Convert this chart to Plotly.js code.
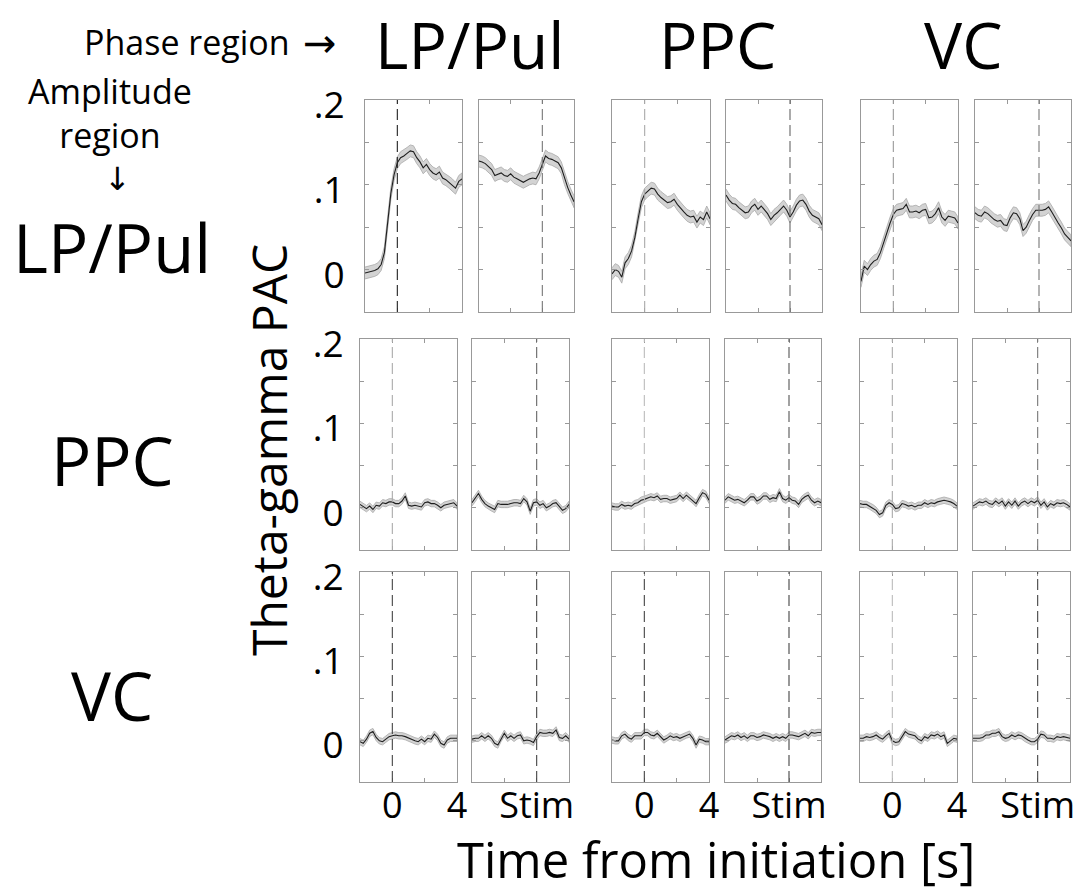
<!DOCTYPE html>
<html><head><meta charset="utf-8">
<script src="https://cdn.plot.ly/plotly-3.0.1.min.js"></script>
<style>html,body{margin:0;padding:0;background:#fff;}#chart{width:1079px;height:892px;}</style>
</head><body><div id="chart"></div>
<script>
// ---------- DATA ----------
const timeInit = [-2,-1.8,-1.6,-1.4,-1.2,-1,-0.8,-0.6,-0.4,-0.2,0,0.2,0.4,0.6,0.8,1,1.2,1.4,1.6,1.8,2,2.2,2.4,2.6,2.8,3,3.2,3.4,3.6,3.8,4];
const timeStim = [-4,-3.8,-3.6,-3.4,-3.2,-3,-2.8,-2.6,-2.4,-2.2,-2,-1.8,-1.6,-1.4,-1.2,-1,-0.8,-0.6,-0.4,-0.2,0,0.2,0.4,0.6,0.8,1,1.2,1.4,1.6,1.8,2];

const phaseRegions = ['LP/Pul','PPC','VC'];
const amplitudeRegions = ['LP/Pul','PPC','VC'];
const initTickText = ['', '0', '', '4'];
const stimTickText = ['', '', 'Stim', ''];
const pacTickText = ['', '0', '', '.1', '', '.2'];

// amplitude LP/Pul
const lp_lp_init = [-0.004,-0.003,-0.002,-0.001,0.001,0.006,0.020,0.055,0.090,0.112,0.126,0.132,0.134,0.137,0.140,0.139,0.132,0.127,0.120,0.124,0.118,0.114,0.112,0.115,0.108,0.106,0.103,0.100,0.096,0.104,0.107];
const lp_lp_stim = [0.128,0.127,0.125,0.122,0.118,0.111,0.113,0.114,0.111,0.110,0.113,0.109,0.107,0.105,0.103,0.105,0.107,0.108,0.107,0.114,0.124,0.134,0.131,0.130,0.128,0.126,0.120,0.107,0.097,0.088,0.080];
const lp_ppc_init = [-0.005,0.000,-0.002,-0.009,0.008,0.013,0.022,0.038,0.060,0.080,0.089,0.093,0.096,0.095,0.089,0.085,0.082,0.079,0.080,0.083,0.077,0.072,0.068,0.064,0.062,0.063,0.056,0.062,0.059,0.068,0.060];
const lp_ppc_stim = [0.088,0.082,0.078,0.077,0.073,0.070,0.067,0.068,0.074,0.077,0.071,0.075,0.071,0.066,0.059,0.064,0.067,0.071,0.075,0.070,0.062,0.068,0.076,0.081,0.082,0.077,0.069,0.064,0.062,0.060,0.053];
const lp_vc_init = [-0.014,0.004,0.000,0.006,0.010,0.012,0.020,0.032,0.043,0.055,0.065,0.070,0.071,0.072,0.077,0.068,0.068,0.069,0.067,0.070,0.071,0.061,0.062,0.066,0.073,0.062,0.058,0.063,0.062,0.061,0.055];
const lp_vc_stim = [0.067,0.064,0.063,0.068,0.066,0.062,0.059,0.057,0.058,0.053,0.052,0.061,0.067,0.066,0.060,0.046,0.050,0.058,0.065,0.070,0.070,0.070,0.071,0.074,0.068,0.061,0.055,0.049,0.042,0.038,0.034];
// amplitude PPC
const ppc_lp_init = [0.004,0.001,-0.001,0.002,-0.002,0.003,0.002,0.006,0.005,0.007,0.007,0.005,0.005,0.008,0.014,0.003,0.002,0.003,0.002,0.001,0.006,0.007,0.005,0.005,0.003,0.000,0.003,0.004,0.005,0.006,0.002];
const ppc_lp_stim = [0.006,0.011,0.017,0.010,0.005,0.002,0.000,-0.002,0.005,0.004,0.004,0.004,0.005,0.006,0.006,0.005,0.011,0.007,-0.004,0.006,0.007,0.003,0.005,0.000,0.002,0.005,0.006,0.002,-0.003,-0.001,0.004];
const ppc_ppc_init = [0.002,0.001,0.001,0.004,0.002,0.003,0.002,0.005,0.006,0.009,0.010,0.012,0.013,0.012,0.014,0.010,0.011,0.011,0.009,0.010,0.011,0.015,0.011,0.015,0.012,0.009,0.005,0.012,0.018,0.016,0.009];
const ppc_ppc_stim = [0.009,0.013,0.011,0.009,0.010,0.008,0.006,0.009,0.013,0.013,0.008,0.010,0.014,0.014,0.010,0.012,0.011,0.019,0.011,0.009,0.012,0.009,0.008,0.004,0.010,0.013,0.015,0.009,0.006,0.008,0.006];
const ppc_vc_init = [0.005,0.004,0.004,0.002,0.000,-0.003,-0.008,-0.006,0.003,0.006,0.004,-0.001,0.000,0.005,0.004,0.002,0.003,0.001,0.003,0.003,0.006,0.004,0.006,0.005,0.007,0.008,0.009,0.008,0.007,0.005,0.002];
const ppc_vc_stim = [0.002,0.005,0.007,0.006,0.008,0.005,0.004,0.008,0.005,0.008,0.002,0.007,0.003,0.008,0.002,0.006,0.008,0.005,0.008,0.006,0.009,0.003,0.007,0.001,0.005,0.003,0.006,0.005,0.006,0.004,0.001];
// amplitude VC
const vc_lp_init = [-0.002,-0.004,0.001,0.008,0.010,0.003,-0.001,-0.002,0.001,0.004,0.005,0.006,0.005,0.005,0.004,0.002,0.001,-0.001,-0.002,0.001,-0.002,0.002,0.001,0.007,0.003,-0.004,-0.006,0.000,0.002,0.002,0.002];
const vc_lp_stim = [0.001,0.002,0.002,0.005,0.002,0.005,0.002,-0.004,-0.006,0.002,0.008,0.002,0.005,0.002,0.005,0.006,-0.001,0.000,-0.001,-0.003,0.004,0.009,0.008,0.008,0.009,0.008,0.012,0.003,0.002,0.005,0.001];
const vc_ppc_init = [0.000,-0.001,-0.001,0.005,0.007,0.003,0.001,0.005,0.005,0.005,0.009,0.009,0.006,0.005,0.008,0.004,0.000,0.002,0.005,0.003,0.004,0.002,0.004,0.006,0.007,0.002,-0.006,0.001,0.000,-0.002,-0.002];
const vc_ppc_stim = [0.000,0.002,0.005,0.004,0.006,0.003,0.005,0.002,0.005,0.005,0.003,0.004,0.006,0.005,0.004,0.002,0.004,0.002,0.004,0.002,0.006,0.006,0.005,0.004,0.006,0.008,0.005,0.009,0.008,0.009,0.009];
const vc_vc_init = [0.002,0.002,0.004,0.003,0.004,0.006,0.003,0.001,0.005,0.008,-0.001,-0.003,-0.002,0.004,0.010,0.007,0.006,0.005,0.001,-0.001,0.004,0.002,0.006,0.005,0.007,0.004,0.006,-0.004,-0.001,0.002,0.001];
const vc_vc_stim = [0.002,0.002,0.002,0.003,0.006,0.006,0.008,0.008,0.010,0.004,0.002,0.003,0.006,0.004,0.006,0.005,0.002,0.000,-0.002,-0.002,0.001,0.007,0.006,0.002,0.002,0.001,0.004,0.003,0.004,0.003,0.002];

// SEM half-width of shaded band per amplitude region
const semByAmplitude = [0.007, 0.0038, 0.0038];

// ---------- STYLE / LAYOUT ----------
const W = 1079, H = 892;
const FONT = 'Open Sans, sans-serif';
const ARROWFONT = 'DejaVu Sans, sans-serif';
const panelRows = [
  [lp_lp_init, lp_lp_stim, lp_ppc_init, lp_ppc_stim, lp_vc_init, lp_vc_stim],
  [ppc_lp_init, ppc_lp_stim, ppc_ppc_init, ppc_ppc_stim, ppc_vc_init, ppc_vc_stim],
  [vc_lp_init, vc_lp_stim, vc_ppc_init, vc_ppc_stim, vc_vc_init, vc_vc_stim]
];
const colPx = [
  [[365,462],[479,574],[612,710],[726,822],[861,958],[975,1071]],
  [[360,457],[472,569],[612,709],[725,821],[860,957],[973,1070]],
  [[360,457],[472,569],[612,709],[725,821],[860,957],[973,1070]]
];
const rowPx = [[100,312],[339,550],[572,782]];
const dashColors = [
  ['#222','#777','#aaa','#666','#999','#777'],
  ['#aaa','#666','#bbb','#555','#aaa','#777'],
  ['#444','#444','#444','#444','#bbb','#444']
];

const traces = [];
const shapes = [];
const layout = {
  width: W, height: H,
  margin: {l:0, r:0, t:0, b:0},
  paper_bgcolor: '#fff', plot_bgcolor: '#fff',
  showlegend: false,
  font: {family: FONT, color: '#000'},
  annotations: []
};

for (let r = 0; r < 3; r++) {
  for (let c = 0; c < 6; c++) {
    const k = r * 6 + c + 1;
    const sfx = k === 1 ? '' : String(k);
    const isInit = c % 2 === 0;
    const t = isInit ? timeInit : timeStim;
    const m = panelRows[r][c];
    const s = semByAmplitude[r];
    const upper = m.map(v => v + s);
    const lower = m.map(v => v - s);
    traces.push({
      x: t.concat(t.slice().reverse()),
      y: upper.concat(lower.slice().reverse()),
      xaxis: 'x' + sfx, yaxis: 'y' + sfx,
      type: 'scatter', mode: 'lines', fill: 'toself',
      fillcolor: 'rgba(175,175,175,0.55)',
      line: {color: '#a8a8a8', width: 0.8},
      hoverinfo: 'skip'
    });
    traces.push({
      x: t, y: m, xaxis: 'x' + sfx, yaxis: 'y' + sfx,
      type: 'scatter', mode: 'lines',
      line: {color: '#1e1e1e', width: 1.1}
    });
    const [x0, x1] = colPx[r][c];
    const [y0, y1] = rowPx[r];
    layout['xaxis' + sfx] = {
      domain: [x0 / W, x1 / W],
      range: isInit ? [-2, 4] : [-4, 2],
      tickvals: isInit ? [-2, 0, 2, 4] : [-4, -2, 0, 2],
      ticktext: r === 2 ? (isInit ? initTickText : stimTickText) : ['', '', '', ''],
      ticks: 'inside', ticklen: 4, tickcolor: '#999', tickwidth: 1,
      showline: true, mirror: 'ticks', linecolor: '#999', linewidth: 1,
      showgrid: false, zeroline: false,
      anchor: 'y' + sfx,
      ticklabelstandoff: -8,
      tickfont: {family: FONT, size: 36, color: '#000'},
      fixedrange: true
    };
    layout['yaxis' + sfx] = {
      domain: [1 - y1 / H, 1 - y0 / H],
      range: [-0.05, 0.2],
      tickvals: [-0.05, 0, 0.05, 0.1, 0.15, 0.2],
      ticktext: c === 0 ? pacTickText : ['', '', '', '', '', ''],
      ticks: 'inside', ticklen: 4, tickcolor: '#999', tickwidth: 1,
      showline: true, mirror: 'ticks', linecolor: '#999', linewidth: 1,
      showgrid: false, zeroline: false,
      anchor: 'x' + sfx,
      ticklabelstandoff: r === 0 ? 12 : 8,
      ticklabelshift: 5,
      tickfont: {family: FONT, size: 37, color: '#000'},
      fixedrange: true
    };
    shapes.push({
      type: 'line', xref: 'x' + sfx, yref: 'y' + sfx + ' domain',
      x0: 0, x1: 0, y0: 0, y1: 1,
      line: {color: dashColors[r][c], width: 1.1, dash: '11px,5px'}
    });
  }
}
layout.shapes = shapes;

// headers
const groupCenters = [469, 717, 963];
phaseRegions.forEach((name, i) => {
  layout.annotations.push({text: name, xref: 'paper', yref: 'paper',
    x: groupCenters[i] / W, y: 1 - 44 / H, xanchor: 'center', yanchor: 'middle',
    showarrow: false, font: {family: FONT, size: 64, color: '#000'}});
});
const rowCenters = [247, 460, 695];
amplitudeRegions.forEach((name, i) => {
  layout.annotations.push({text: name, xref: 'paper', yref: 'paper',
    x: 112 / W, y: 1 - rowCenters[i] / H, xanchor: 'center', yanchor: 'middle',
    showarrow: false, font: {family: FONT, size: 67, color: '#000'}});
});
layout.annotations.push({text: 'Phase region', xref: 'paper', yref: 'paper',
  x: 292 / W, y: 1 - 42 / H, xanchor: 'right', yanchor: 'middle',
  showarrow: false, font: {family: FONT, size: 34, color: '#000'}});
layout.annotations.push({text: '\u2192', xref: 'paper', yref: 'paper',
  x: 320 / W, y: 1 - 43 / H, xanchor: 'center', yanchor: 'middle',
  showarrow: false, font: {family: ARROWFONT, size: 40, color: '#000'}});
layout.annotations.push({text: 'Amplitude<br>region', xref: 'paper', yref: 'paper',
  x: 110 / W, y: 1 - 113 / H, xanchor: 'center', yanchor: 'middle', align: 'center',
  showarrow: false, font: {family: FONT, size: 34, color: '#000'}});
layout.annotations.push({text: '\u2193', xref: 'paper', yref: 'paper',
  x: 117 / W, y: 1 - 179 / H, xanchor: 'center', yanchor: 'middle',
  showarrow: false, font: {family: ARROWFONT, size: 32, color: '#000'}});
layout.annotations.push({text: 'Theta-gamma PAC', xref: 'paper', yref: 'paper',
  x: 268 / W, y: 1 - 450 / H, xanchor: 'center', yanchor: 'middle', textangle: -90,
  showarrow: false, font: {family: FONT, size: 48, color: '#000'}});
layout.annotations.push({text: 'Time from initiation [s]', xref: 'paper', yref: 'paper',
  x: 716 / W, y: 1 - 859 / H, xanchor: 'center', yanchor: 'middle',
  showarrow: false, font: {family: FONT, size: 49, color: '#000'}});

Plotly.newPlot('chart', traces, layout, {staticPlot: true, displayModeBar: false});
</script>
</body></html>
